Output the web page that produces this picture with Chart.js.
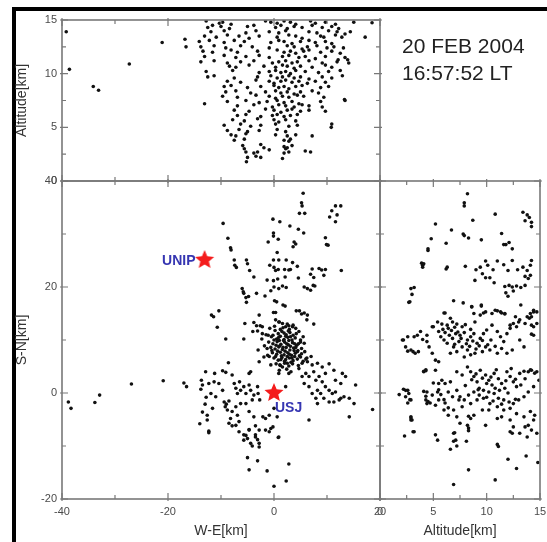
<!DOCTYPE html>
<html lang="en">
<head>
<meta charset="UTF-8" />
<title>20 FEB 2004 16:57:52 LT</title>
<script src="https://cdn.jsdelivr.net/npm/chart.js@4.4.0/dist/chart.umd.min.js"></script>
<style>
  html, body { margin: 0; padding: 0; background: #fff; }
  #page { position: relative; width: 547px; height: 542px; overflow: hidden; }
  #page canvas { position: absolute; left: 0; top: 0; }
  #box { position: absolute; left: 12px; top: 7px; width: 600px; height: 600px;
         border-left: 4px solid #000; border-top: 4px solid #000; }
  #stamp { position: absolute; left: 402px; top: 32px; color: #222; white-space: nowrap;
           font: 21px/27px 'Liberation Sans', Arial, sans-serif; }
</style>
</head>
<body>
<div id="page">
  <div id="box"></div>
  <canvas id="topChart" width="547" height="542"></canvas>
  <canvas id="mainChart" width="547" height="542"></canvas>
  <canvas id="sideChart" width="547" height="542"></canvas>
  <div id="stamp">20 FEB 2004<br>16:57:52 LT</div>
</div>
<script>
// sources, [W-E km, Altitude km]
const weAltPoints = [
  [-39.2,13.9],[-38.6,10.4],[-34.1,8.8],[-33.1,8.45],[-27.3,10.9],[-21.1,12.9],[-16.8,13.2],[-16.6,12.5],
  [-13.1,7.2],[10.8,5.0],[13.3,7.6],[18.5,14.75],[17.2,13.4],[15.05,14.8],[12.9,9.8],[13.9,11.3],[12.1,11.3],
  [-12.8,14.9],[-10.3,14.7],[-9.7,14.8],[-8.1,14.6],[-1.6,14.9],[-0.6,14.8],[0.6,14.7],[1.9,14.9],[3.1,14.8],[4.1,14.6],[6.9,14.9],[7.8,14.7],[9.7,14.8],[11.6,14.6],
  [-12.5,14.3],[-11.6,14.5],[-10.0,14.4],[-8.4,14.2],[-5.0,14.4],[-3.8,14.5],[0.3,14.3],[1.3,14.5],[2.5,14.2],[3.8,14.4],[5.3,14.3],[7.2,14.5],[9.1,14.3],[10.9,14.4],[12.2,14.2],
  [-11.9,13.9],[-9.4,14.0],[-5.3,13.8],[-3.4,14.0],[-0.9,13.9],[0.9,13.8],[2.2,14.0],[6.6,13.9],[8.1,13.8],[10.3,14.0],[11.9,13.9],[13.4,13.7],[14.4,13.9],
  [-13.1,13.5],[-10.9,13.4],[-8.8,13.6],[-6.6,13.5],[-4.7,13.3],[-2.8,13.5],[0.6,13.4],[2.8,13.6],[4.1,13.5],[5.3,13.3],[8.8,13.5],[9.4,13.4],[11.6,13.6],[12.8,13.4],
  [-14.1,13.0],[-12.2,13.1],[-9.4,12.9],[-7.5,13.1],[-5.6,13.0],[-0.6,12.9],[0.9,13.1],[1.9,13.0],[3.4,12.8],[5.0,13.0],[6.6,13.1],[7.8,12.9],[9.7,13.0],[10.9,12.8],
  [-13.8,12.5],[-11.3,12.6],[-9.1,12.4],[-6.3,12.6],[-4.1,12.5],[-0.9,12.4],[2.5,12.6],[3.8,12.5],[5.3,12.3],[6.3,12.5],[8.1,12.6],[10.0,12.4],[11.3,12.5],[13.1,12.4],
  [-13.4,12.1],[-11.6,12.0],[-8.1,12.2],[-6.9,12.0],[-3.1,12.1],[0.6,12.2],[1.9,12.0],[3.1,12.1],[4.1,11.9],[5.6,12.1],[6.6,12.2],[8.8,12.0],[10.9,12.1],[12.5,11.9],
  [-13.1,11.6],[-9.4,11.7],[-7.2,11.5],[-5.3,11.6],[-2.8,11.7],[-0.9,11.5],[1.6,11.6],[2.8,11.7],[4.7,11.5],[5.9,11.6],[7.8,11.4],[9.7,11.6],[13.4,11.5],
  [-13.8,11.1],[-11.3,11.2],[-8.8,11.0],[-6.3,11.1],[-3.8,11.2],[-0.3,11.0],[0.9,11.1],[2.2,11.2],[3.4,11.0],[4.4,11.1],[6.6,11.2],[9.1,11.0],[11.9,11.1],[14.1,11.0],
  [-8.4,10.7],[-7.2,10.6],[-4.7,10.8],[-1.9,10.7],[0.3,10.6],[1.6,10.8],[2.5,10.7],[3.8,10.5],[5.0,10.7],[7.2,10.6],[9.7,10.8],[10.9,10.6],
  [-12.8,10.2],[-7.8,10.3],[-2.8,10.1],[-0.9,10.2],[0.3,10.3],[1.3,10.1],[2.2,10.2],[3.1,10.0],[4.1,10.3],[5.9,10.2],[8.4,10.1],[10.3,10.2],[12.5,10.3],
  [-12.5,9.7],[-11.3,9.8],[-7.5,9.6],[-3.1,9.7],[-0.6,9.8],[0.6,9.6],[1.6,9.7],[2.8,9.8],[3.8,9.6],[5.0,9.7],[6.6,9.5],[9.1,9.7],[10.9,9.6],
  [-8.8,9.3],[-6.3,9.2],[-3.4,9.4],[-0.9,9.3],[0,9.1],[1.3,9.3],[2.2,9.4],[3.4,9.2],[4.7,9.3],[6.3,9.1],[7.8,9.3],[9.7,9.2],
  [-9.4,8.8],[-8.1,8.9],[-5.0,8.7],[-2.5,8.8],[0,8.9],[0.9,8.7],[1.9,8.8],[2.8,8.6],[4.1,8.8],[5.3,8.9],[8.8,8.7],[10.3,8.8],
  [-9.1,8.3],[-7.2,8.4],[-4.4,8.2],[-1.6,8.3],[0.3,8.4],[1.3,8.2],[2.5,8.3],[3.8,8.1],[5.0,8.3],[7.2,8.4],[8.4,8.2],
  [-9.7,7.9],[-6.9,7.8],[-3.4,8.0],[-0.9,7.9],[0.3,7.7],[1.6,7.9],[2.8,7.8],[4.4,8.0],[5.6,7.9],[9.4,7.8],
  [-8.8,7.4],[-5.3,7.5],[-2.8,7.3],[-1.3,7.4],[0.6,7.5],[1.9,7.3],[3.4,7.4],[4.7,7.2],[8.8,7.4],[13.4,7.5],
  [-6.9,7.0],[-3.8,7.1],[-0.3,6.9],[0.9,7.1],[2.2,7.0],[3.8,6.9],[5.3,7.1],[6.6,7.0],[9.1,6.9],
  [-7.5,6.6],[-4.7,6.5],[-1.6,6.7],[0,6.6],[1.3,6.4],[2.5,6.6],[3.4,6.7],[5.0,6.5],[6.6,6.6],[9.7,6.5],
  [-6.9,6.1],[-5.3,6.2],[-2.5,6.0],[-0.3,6.1],[0.6,6.2],[1.9,6.0],[3.1,6.1],[4.4,6.2],
  [-7.8,5.7],[-5.6,5.6],[-3.1,5.8],[0,5.7],[0.9,5.5],[2.2,5.7],[4.1,5.6],
  [-9.4,5.2],[-6.3,5.3],[-4.4,5.1],[-2.5,5.2],[0.3,5.3],[2.8,5.1],[4.4,5.2],[10.9,5.3],
  [-8.8,4.7],[-6.6,4.8],[-5.0,4.6],[-2.8,4.7],[0.6,4.8],[2.2,4.6],
  [-8.1,4.3],[-7.2,4.2],[-5.3,4.4],[0.3,4.3],[2.5,4.2],[4.1,4.3],[7.2,4.2],
  [-7.5,3.8],[-5.6,3.9],[1.9,3.8],[2.8,3.7],[3.1,3.9],
  [-5.9,3.3],[-2.5,3.4],[1.9,3.2],[3.4,3.3],
  [-5.6,3.0],[-1.9,3.1],[-0.9,2.9],[2.2,3.0],[2.5,3.1],
  [-5.3,2.7],[-3.8,2.6],[-3.1,2.7],[1.9,2.6],[2.8,2.7],[5.9,2.8],[6.9,2.7],
  [-5.0,2.2],[-3.4,2.3],[-2.5,2.2],[1.6,2.1],[-5.2,1.8]
];

// sources, [W-E km, S-N km]
const weSnPoints = [
  [-38.8,-1.7],[-38.3,-2.9],[-33.8,-1.8],[-32.9,-0.4],[-26.9,1.7],[-20.9,2.3],[-17.0,1.9],[-16.5,1.2],
  [5.5,37.7],[5.2,35.9],[5.3,35.3],[4.8,33.9],[5.8,33.9],[11.6,35.3],[12.6,35.3],[10.9,34.4],[11.9,33.6],[10.5,33.2],[11.6,32.3],
  [-0.2,32.8],[1.1,32.3],[-9.6,32.0],[3.0,31.5],[4.6,30.9],[5.6,30.2],[-0.1,30.2],[-0.1,29.6],[0.8,29.0],[-1.1,28.5],
  [3.8,28.5],[4.1,28.1],[3.6,27.6],[9.7,29.3],[9.9,28.0],[10.2,27.9],[-8.7,29.2],[-8.2,27.4],[-8.1,27.0],[0.6,26.5],
  [-0.1,25.1],[0.9,25.1],[2.3,25.1],[3.5,24.6],[4.4,23.9],[-7.5,25.1],[-7.4,24.1],[-7.1,23.7],[-5.2,25.1],[-5.0,24.4],[-4.6,23.1],
  [-0.8,24.1],[0,23.7],[0.8,23.3],[0.3,23.1],[2.0,23.3],[2.8,23.2],[3.1,23.3],[7.2,23.4],[8.5,23.5],[9.0,23.2],[9.7,23.3],[12.7,23.1],
  [-3.8,21.9],[-1.3,21.3],[-0.1,21.2],[0.7,21.5],[2.1,21.9],[4.6,21.7],[6.9,22.4],[7.5,21.8],[9.4,22.2],
  [0,20.0],[0.9,19.7],[1.6,20.2],[2.3,19.9],[-0.6,19.3],[5.7,20.0],[6.3,19.7],[6.9,19.4],[7.7,20.2],[7.4,20.3],
  [-6.0,19.7],[-5.8,19.1],[-5.7,18.8],[-5.3,18.0],[-4.8,18.2],[-5.2,17.1],[-3.3,18.8],[-1.7,18.3],[0.1,17.4],[0.5,17.2],[1.7,16.6],[2.1,16.4],
  [-11.4,14.4],[-11.8,14.7],[-10.4,15.5],[-10.7,12.4],[-2.8,14.7],[-0.1,15.2],[0.3,15.2],[4.2,15.5],[4.8,15.5],[5.2,14.9],[5.7,15.1],[6.3,14.7],[6.2,13.8],[7.5,13.0],
  [-5.5,13.1],[-3.8,13.3],[-3.3,12.7],[-2.6,12.7],[-2.2,12.5],[-3.1,11.7],[-2.2,11.2],[-1.1,10.9],[-0.2,10.9],[-9.1,10.2],[-5.7,10.2],[-4.0,11.6],
  [0.3,13.8],[0.9,13.4],[1.6,13.1],[2.2,12.5],[2.8,12.7],[3.5,12.5],[4.1,12.2],[4.7,11.6],[5.5,10.6],[5.0,10.0],[5.7,9.4],
  [0.2,11.8],[0.8,11.2],[1.5,11.6],[2.3,11.0],[3.0,11.4],[-0.5,10.6],[0.5,10.2],[1.2,10.7],[1.9,10.1],[2.6,10.5],[3.4,10.0],[4.0,10.4],
  [-1.0,9.6],[-0.2,9.3],[0.6,9.7],[1.3,9.2],[2.0,9.6],[2.7,9.1],[3.5,9.5],[4.3,9.0],[-0.6,8.6],[0.2,8.3],[0.9,8.7],[1.6,8.2],
  [2.3,8.6],[3.0,8.1],[3.7,8.5],[4.5,8.0],[5.2,8.4],[-0.3,7.6],[0.5,7.3],[1.2,7.7],[1.9,7.2],[2.6,7.6],[3.3,7.1],[4.0,7.5],[4.8,7.0],
  [0.0,6.6],[0.8,6.2],[1.5,6.7],[2.2,6.3],[2.9,6.6],[3.6,6.1],[4.4,6.4],[5.5,6.0],[0.4,5.5],[1.2,5.2],[2.0,5.6],[2.8,5.1],[3.5,5.5],[4.6,5.2],
  [1.0,4.3],[2.4,4.5],[3.2,4.0],[1.7,12.3],[2.9,12.0],[-1.5,11.0],[-1.8,8.9],[-2.3,10.2],[-1.2,7.1],[5.0,9.6],[5.8,7.8],[6.2,6.6],
  [0.1,12.6],[1.0,13.4],[2.5,13.0],[3.6,12.8],[-0.8,12.2],[1.8,9.9],[2.1,7.9],[1.1,8.9],[2.5,6.9],[3.9,9.3],[-0.9,6.9],[4.2,11.2],[3.1,10.6],
  [0.4,9.0],[1.0,9.9],[1.7,8.6],[2.4,9.3],[3.1,8.8],[3.8,8.0],[0.7,7.9],[1.4,7.0],[2.9,7.3],[3.4,6.6],[0.3,6.9],[2.0,6.0],
  [4.1,8.6],[-0.4,8.0],[1.9,11.3],[2.7,11.7],[1.2,12.0],[0.0,10.0],[4.6,9.3],[3.2,5.8],[1.6,4.9],[2.5,5.6],[3.9,6.9],[5.2,7.4],
  [1.3,6.3],[2.2,10.7],[0.9,10.5],[3.6,10.9],[4.4,7.8],[2.8,9.9],
  [-3.0,8.1],[-1.9,6.8],[-1.3,8.4],[-2.8,5.9],[-8.6,5.7],[-0.6,5.3],[0.9,3.7],[1.1,5.3],[5.0,6.8],[6.0,6.4],[7.0,6.9],[4.7,4.6],
  [-13.7,2.4],[-13.5,1.5],[-13.8,0.7],[-12.9,4.0],[-11.2,3.7],[-9.7,4.2],[-9.1,3.9],[-12.3,1.8],[-11.3,2.1],[-11.9,-0.1],[-12.8,-0.8],
  [-11.0,-0.7],[-13.0,-2.1],[-11.6,-2.9],[-13.5,-3.6],[-12.6,-4.2],[-14.0,-5.8],[-12.3,-7.2],[-10.4,1.8],[-9.7,0.5],[-9.4,-1.7],
  [-9.0,-2.1],[-9.2,-2.6],[-8.5,-1.5],[-8.8,-3.2],
  [-7.9,3.4],[-7.5,1.8],[-7.2,0.9],[-6.9,-0.1],[-6.5,2.1],[-6.3,0.5],[-5.7,1.2],[-5.3,-0.1],[-4.7,1.5],[-4.4,0.5],[-3.8,-0.4],
  [-4.7,3.7],[-4.4,4.0],[-3.1,1.2],[-3.0,-0.1],[-2.7,-1.3],[-4.1,-1.3],[-5.3,-2.0],[-6.3,-2.0],[-7.2,-2.6],[-7.9,-3.5],[-6.9,-4.2],
  [-8.2,-4.8],[-8.5,-5.7],[-7.9,-6.2],[-6.6,-5.4],[-4.7,-3.5],[-3.8,-4.5],[-3.5,-6.2],[-2.8,-7.0],[-4.7,-6.9],[-5.7,-7.9],[-5.0,-8.6],
  [-3.5,-7.9],[-3.1,-8.8],[-2.8,-9.5],[-4.4,-9.5],[-1.6,-4.8],[-1.6,-7.0],[-0.9,-7.3],[-0.2,-6.4],[0.6,-4.5],[0.9,-8.3],[-2.1,-4.5],
  [-0.9,-4.2],[0,-2.9],
  [5.3,5.6],[6.3,5.9],[7.2,5.3],[8.2,5.6],[9.1,4.9],[10.4,5.5],[11.3,4.3],[12.9,3.7],[13.5,3.1],[6.0,3.7],[6.6,3.1],[7.5,4.0],
  [7.9,2.4],[8.5,3.1],[9.1,2.1],[9.7,1.2],[10.4,0.5],[11.0,-0.1],[11.6,0.2],[12.6,-1.0],[13.2,-0.7],[14.2,-1.0],[15.1,-2.0],
  [15.4,1.5],[8.2,0.5],[8.8,-0.1],[9.4,-1.0],[10.4,-1.7],[11.3,-1.7],[12.3,-1.3],[8.2,-2.0],[6.6,1.2],[7.2,-0.1],[7.9,-1.0],
  [5.7,1.8],[5.3,3.1],[6.6,-5.1],[14.2,-4.5],[18.6,-3.1],[9.7,3.7],[11.6,2.4],[12.6,1.8],[2.2,1.2],[2.8,3.7],
  [-5.0,-12.2],[-3.1,-12.8],[-4.7,-14.5],[-1.3,-14.7],[2.8,-13.4],[0,-17.6],[2.3,-16.6],[0.8,-8.4],[-5.7,-8.9],[-4.1,-10.0],
  [-2.8,-10.2],[-3.5,-8.3],[-5.3,-8.0],[-4.7,-7.0],[-12.3,-7.5],[-12.6,-5.1],[-7.2,-6.1],[-6.6,-7.3],[-0.6,-6.7]
];

// sources, [Altitude km, S-N km]
const altSnPoints = [
  [8.2,37.6],[7.9,35.9],[7.9,35.3],[10.8,33.75],[13.4,34.1],[13.8,33.6],[14.0,33.1],[13.6,32.5],[14.2,32.2],[14.2,31.4],
  [8.7,32.6],[5.2,31.9],[6.7,30.75],[7.8,30.0],[7.9,29.7],[8.3,29.25],[4.8,29.1],[6.2,28.25],[9.5,28.9],[11.4,30.1],
  [11.6,28.0],[11.8,28.0],[12.1,28.4],[12.4,27.2],[4.5,27.2],[4.5,26.9],[3.9,24.5],[4.0,24.1],[4.0,23.75],[4.1,24.4],
  [6.2,23.4],[6.3,23.75],[8.0,23.9],[9.0,23.25],[9.4,23.75],[9.9,24.9],[10.1,24.1],[10.6,23.25],[11.0,24.9],[11.6,24.2],
  [12.0,23.1],[12.4,25.0],[12.9,23.25],[13.4,23.75],[13.8,23.1],[14.1,24.1],[14.2,25.0],[9.6,22.5],[9.9,21.75],[10.3,21.75],
  [10.7,20.8],[8.9,21.25],[13.6,22.0],[13.9,21.6],[14.1,22.2],[2.9,19.7],[3.2,19.9],[3.0,18.6],[2.7,17.1],
  [11.7,20.1],[12.1,20.3],[12.4,20.0],[12.8,20.2],[13.2,19.9],[13.6,20.3],[11.8,18.9],[12.0,18.25],[12.5,19.25],
  [6.9,17.4],[8.6,16.25],[9.5,16.4],[13.2,16.6],[11.0,15.5],[11.4,15.1],[11.7,15.0],[6.1,15.1],[9.7,15.1],[9.9,15.3],
  [12.7,14.4],[13.0,13.4],[13.6,13.1],[14.0,14.1],[14.2,14.4],[14.4,15.3],[14.4,12.5],[14.2,11.1],
  [2.8,17.2],[6.0,15.1],[6.6,14.1],[7.2,13.0],[7.7,12.5],[8.5,12.0],[8.9,13.4],[9.4,14.7],[8.8,15.0],[9.5,16.6],[8.6,16.3],[7.8,17.0],
  [5.0,12.5],[5.5,11.6],[5.8,13.0],[6.1,11.4],[6.4,12.2],[5.7,10.6],[6.0,10.0],[6.3,9.4],[6.8,10.3],[7.1,11.2],[7.5,10.9],
  [7.4,9.7],[7.7,8.7],[8.2,10.0],[8.5,10.6],[8.8,11.2],[9.1,9.4],[9.4,10.3],[9.7,11.2],[10.0,11.9],[10.5,12.8],[11.0,11.6],
  [11.3,10.6],[11.6,9.7],[11.9,11.2],[12.2,12.2],[12.5,13.1],[12.8,12.5],[10.5,15.0],[10.8,15.6],[11.3,15.3],[11.7,14.9],
  [12.2,12.8],[13.1,13.8],[14.1,15.0],[14.4,15.6],[14.7,15.3],[13.8,14.4],[14.2,12.8],[14.7,13.1],[14.4,10.9],[13.5,8.7],
  [13.1,10.0],[12.4,8.1],[11.9,7.5],[11.4,8.4],[11.0,7.5],[10.3,8.1],[9.9,8.7],[9.6,7.8],[8.9,7.5],[8.5,7.2],[8.2,8.1],
  [7.9,6.8],[7.2,7.8],[6.9,8.7],[6.6,7.5],
  [6.3,12.8],[6.7,11.8],[7.0,12.4],[7.3,11.5],[7.6,10.3],[7.9,11.4],[8.1,9.3],[8.4,8.8],[8.7,9.8],[9.0,8.3],[9.3,8.9],
  [9.6,9.9],[10.1,9.1],[10.4,10.0],[10.8,8.8],[6.5,10.9],[7.0,9.2],[5.9,12.0],[6.8,13.4],[8.0,12.9],
  [2.2,10.0],[2.6,10.6],[3.2,10.6],[3.5,10.9],[3.8,11.6],[2.4,8.7],[3.1,7.8],[3.3,7.5],[3.6,7.8],[4.4,9.7],[4.6,8.7],
  [4.9,7.5],[5.2,6.2],[5.5,5.9],[4.1,4.0],[4.3,4.2],[2.1,10.0],[2.6,7.9],[2.9,8.1],[4.0,10.1],[4.4,10.9],[4.9,12.5],[5.4,13.4],
  [7.2,4.0],[7.7,3.4],[8.2,4.9],[8.5,4.0],[8.8,3.1],[9.1,2.1],[9.4,4.3],[9.9,3.4],[10.2,2.4],[10.5,1.5],[10.7,3.7],[11.1,2.7],
  [11.4,1.8],[11.7,0.9],[11.9,4.0],[12.2,3.1],[12.5,2.1],[12.8,1.2],[13.1,3.7],[13.6,2.7],[13.9,4.0],[14.2,4.3],[14.7,4.0],
  [14.9,2.4],[14.4,1.2],[13.9,0.2],[13.5,-0.7],[13.0,-1.3],[12.5,-2.0],[12.1,-1.7],[11.6,-1.3],[11.1,-1.0],[10.7,-0.1],
  [10.2,0.2],[9.7,0.5],[9.3,0.9],[8.8,0.2],[8.3,-0.4],[7.9,-1.3],[7.5,-0.7],[7.2,0.5],[8.5,-2.0],[9.1,-1.3],[9.7,-1.0],
  [9.0,3.6],[9.6,2.8],[10.0,1.8],[10.4,3.0],[10.9,4.4],[11.2,0.5],[11.8,2.3],[12.0,0.0],[12.7,2.6],[13.2,1.5],[9.3,-0.4],
  [10.0,-0.8],[10.6,-1.5],[11.4,-2.1],[12.7,-1.2],[8.0,1.4],[8.6,2.5],[9.2,0.6],[10.8,0.9],[12.3,4.6],
  [10.3,-2.0],[11.0,-2.6],[11.6,-3.2],[12.2,-2.9],[12.8,-3.9],[13.5,-4.5],[14.1,-3.5],[14.5,-4.2],[14.4,-5.1],[13.9,-6.1],
  [14.2,-7.0],[14.7,-7.6],[13.8,-8.3],[13.1,-7.6],[12.5,-6.4],[12.2,-7.3],[11.4,-4.5],[11.0,-4.8],[10.2,-3.2],[9.6,-3.2],
  [8.8,-4.2],[8.5,-4.8],[8.2,-6.1],[8.3,-7.1],[6.9,-7.6],[7.1,-8.9],[5.2,4.3],[5.5,1.8],[5.8,2.4],[6.1,1.8],[6.6,2.1],
  [6.4,0.2],[6.8,-0.7],[7.4,-1.3],[7.7,-2.6],[6.9,-3.2],[6.4,-4.2],[6.0,-3.2],[5.4,0.2],[5.5,-1.3],[5.2,-2.3],[4.4,0.2],
  [4.3,-1.3],[4.4,-2.0],[4.9,-0.4],[2.6,0.5],[2.7,-0.1],[2.2,0.7],[2.9,-1.3],[2.4,-0.7],[1.8,-0.3],[2.9,-4.5],[2.9,-5.1],
  [3.2,-7.3],[2.3,-8.1],[5.2,-7.9],[5.4,-8.9],[7.2,-4.5],[7.5,-5.7],[9.9,-6.1],[11.1,-10.1],[12.2,-5.1],[12.4,-7.6],
  [13.6,-6.4],[4.1,4.1],[4.3,4.4],[5.0,1.9],[5.5,0.6],[5.7,-0.3],[6.0,-1.25],[6.1,-1.9],[6.4,-2.8],[4.1,0.3],[4.3,-0.6],
  [4.5,-1.6],[4.7,-1.9],[13.5,4.1],[14.1,4.4],[14.5,3.75],
  [6.9,-9.1],[7.2,-10.0],[7.0,-7.5],[6.6,-10.6],[8.1,-9.1],[8.3,-4.4],[8.3,-6.6],[11.0,-9.7],[12.0,-12.5],[13.7,-11.9],
  [12.8,-14.25],[14.8,-13.1],[8.3,-14.5],[10.8,-16.4],[6.9,-17.25],[3.1,-7.3],[2.9,-4.7],[3.0,-5.1],[2.4,0.5],[2.6,-1.9],[2.8,-1.25]
];

// ground stations
const siteNames = ['UNIP', 'USJ'];
const siteWE = [-13.1, 0];
const siteSN = [25.1, 0];

Chart.defaults.font.family = "'Liberation Sans', Arial, sans-serif";

const tickColor = '#4a4a4a';
const frameColor = '#787878';

// box round the plot area, with inward ticks taken from the scales
const framePlugin = {
  id: 'frame',
  afterDraw(chart, args, opts) {
    const {ctx, chartArea: a} = chart;
    const xs = chart.scales.x, ys = chart.scales.y;
    const isMajor = (v, step) => Math.abs(v % step) < 1e-6;
    ctx.save();
    ctx.strokeStyle = frameColor;
    ctx.lineWidth = 1.6;
    ctx.strokeRect(a.left, a.top, a.right - a.left, a.bottom - a.top);
    ctx.lineWidth = 1.2;
    ctx.beginPath();
    xs.ticks.forEach(t => {
      const px = xs.getPixelForValue(t.value);
      const major = isMajor(t.value, opts.xMajor);
      const len = major ? 6 : 4, out = major ? 2 : 0;
      ctx.moveTo(px, a.bottom + out); ctx.lineTo(px, a.bottom - len);
      ctx.moveTo(px, a.top - out); ctx.lineTo(px, a.top + len);
    });
    ys.ticks.forEach(t => {
      const py = ys.getPixelForValue(t.value);
      const major = isMajor(t.value, opts.yMajor);
      const len = major ? 6 : 4, out = major ? 2 : 0;
      ctx.moveTo(a.left - out, py); ctx.lineTo(a.left + len, py);
      ctx.moveTo(a.right + out, py); ctx.lineTo(a.right - len, py);
    });
    ctx.stroke();
    ctx.restore();
  }
};

// station names next to the stars
const siteLabels = {
  id: 'siteLabels',
  afterDatasetsDraw(chart, args, opts) {
    if (!opts || !opts.names) return;
    const {ctx} = chart;
    const meta = chart.getDatasetMeta(0);
    ctx.save();
    ctx.font = "bold 14px 'Liberation Sans', Arial, sans-serif";
    ctx.fillStyle = '#3636b2';
    ctx.textBaseline = 'middle';
    meta.data.forEach((pt, i) => {
      const o = opts.offsets[i];
      ctx.textAlign = o.align;
      ctx.fillText(opts.names[i], pt.x + o.dx, pt.y + o.dy);
    });
    ctx.restore();
  }
};

function starImage(r, color) {
  const c = document.createElement('canvas');
  const s = Math.ceil(r * 2 + 2);
  c.width = c.height = s;
  const g = c.getContext('2d');
  g.fillStyle = color;
  g.beginPath();
  for (let i = 0; i < 10; i++) {
    const ang = -Math.PI / 2 + i * Math.PI / 5;
    const rr = i % 2 ? r * 0.45 : r;
    g.lineTo(s / 2 + rr * Math.cos(ang), s / 2 + rr * Math.sin(ang));
  }
  g.closePath();
  g.fill();
  return c;
}

function dots(points) {
  return {
    data: points.map(p => ({x: p[0], y: p[1]})),
    pointRadius: 1.8,
    pointBackgroundColor: '#111',
    pointBorderWidth: 0,
    order: 1
  };
}

// one linear axis; size fixes the box the axis takes up so the panels line up
function axis(min, max, step, major, size, horizontal, showLabels, title) {
  return {
    type: 'linear',
    min: min, max: max,
    grid: {display: false, drawTicks: false},
    border: {display: false},
    ticks: {
      display: showLabels,
      stepSize: step,
      autoSkip: false,
      maxRotation: 0,
      padding: horizontal ? 6 : 5,
      color: tickColor,
      font: {size: 11},
      callback: v => (Math.abs(v % major) < 1e-6 ? v : '')
    },
    title: {
      display: !!title,
      text: title || '',
      color: '#333',
      font: {size: 14},
      padding: {top: 0, bottom: 0}
    },
    afterFit: s => {
      if (horizontal) s.height = size; else s.width = size;
      s.paddingLeft = s.paddingRight = s.paddingTop = s.paddingBottom = 0;
    }
  };
}

function panel(id, datasets, scales, padding, frame, labels) {
  return new Chart(document.getElementById(id), {
    type: 'scatter',
    data: {datasets: datasets},
    options: {
      responsive: false,
      animation: false,
      events: [],
      layout: {padding: padding},
      plugins: {
        legend: {display: false},
        tooltip: {enabled: false},
        frame: frame,
        siteLabels: labels || {}
      },
      scales: scales
    },
    plugins: [framePlugin, siteLabels]
  });
}

// W-E vs altitude, top
panel('topChart', [dots(weAltPoints)], {
  x: axis(-40, 20, 10, 20, 0, true, false),
  y: axis(0, 15, 2.5, 5, 48, false, true, 'Altitude[km]')
}, {left: 14, right: 167, top: 20, bottom: 361}, {xMajor: 20, yMajor: 5});

// plan view, W-E vs S-N
const star = starImage(10, '#f41c1c');
panel('mainChart', [
  {
    data: siteWE.map((v, i) => ({x: v, y: siteSN[i]})),
    pointStyle: star,
    pointRadius: 10,
    order: 0
  },
  dots(weSnPoints)
], {
  x: axis(-40, 20, 10, 20, 41, true, true, 'W-E[km]'),
  y: axis(-20, 40, 10, 20, 48, false, true, 'S-N[km]')
}, {left: 14, right: 167, top: 181, bottom: 2}, {xMajor: 20, yMajor: 20}, {
  names: siteNames,
  offsets: [{align: 'right', dx: -9, dy: 1.5}, {align: 'left', dx: 1, dy: 15.5}]
});

// altitude vs S-N, right
panel('sideChart', [dots(altSnPoints)], {
  x: axis(0, 15, 2.5, 5, 41, true, true, 'Altitude[km]'),
  y: axis(-20, 40, 10, 20, 0, false, false)
}, {left: 380, right: 7, top: 181, bottom: 2}, {xMajor: 5, yMajor: 20});
</script>
</body>
</html>
